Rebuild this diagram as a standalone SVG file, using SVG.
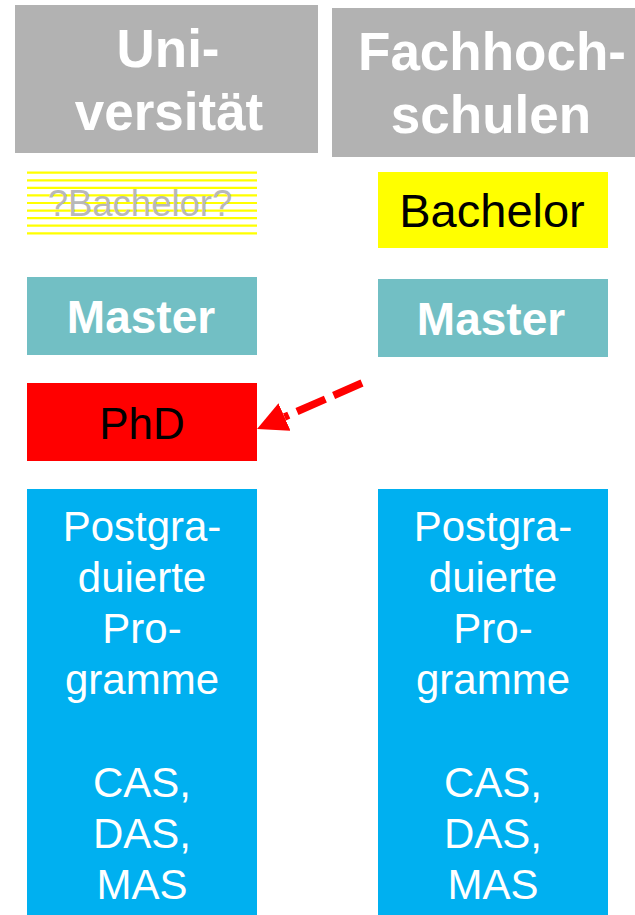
<svg xmlns="http://www.w3.org/2000/svg" width="635" height="915" viewBox="0 0 635 915">
<style>
text{font-family:"Liberation Sans",Arial,sans-serif;text-anchor:middle}
.hdr{fill:#b2b2b2}
.ht{font-size:53px;font-weight:bold;fill:#fff}
.mas{fill:#72bfc4}
.mt{font-size:46px;font-weight:bold;fill:#fff}
.pg{fill:#00b0f0}
.pt{font-size:42px;fill:#fff}
.stripe{stroke:#ffff00;stroke-width:2.2}
.conn{fill:none;stroke:#ff0000;stroke-width:7.5;stroke-dasharray:31 9}
</style>
<defs>
<marker id="ah" markerUnits="userSpaceOnUse" markerWidth="30" markerHeight="30" refX="0" refY="15" orient="auto" viewBox="0 0 30 30">
<path d="M0,0 L30,15 L0,30 Z" fill="#ff0000"/>
</marker>
</defs>
<rect width="635" height="915" fill="#fff"/>
<g id="hdr-uni">
<rect class="hdr" x="15" y="5" width="303" height="148"/>
<text class="ht" x="168" y="67">Uni-</text>
<text class="ht" x="169" y="130">versität</text>
</g>
<g id="hdr-fh">
<rect class="hdr" x="332" y="8" width="303" height="149"/>
<text class="ht" x="492" y="70">Fachhoch-</text>
<text class="ht" x="491" y="133">schulen</text>
</g>
<g id="uni-bachelor">
<g class="stripe">
<line x1="27" y1="172.7" x2="257" y2="172.7"/>
<line x1="27" y1="180.3" x2="257" y2="180.3"/>
<line x1="27" y1="187.9" x2="257" y2="187.9"/>
<line x1="27" y1="195.4" x2="257" y2="195.4"/>
<line x1="27" y1="203" x2="257" y2="203"/>
<line x1="27" y1="210.6" x2="257" y2="210.6"/>
<line x1="27" y1="218.1" x2="257" y2="218.1"/>
<line x1="27" y1="225.7" x2="257" y2="225.7"/>
<line x1="27" y1="233.3" x2="257" y2="233.3"/>
</g>
<text x="140" y="216" font-size="36.5" fill="#b8b8b8">?Bachelor?</text>
</g>
<g id="fh-bachelor">
<rect x="378" y="172" width="230" height="76" fill="#ffff00"/>
<text x="492" y="227" font-size="47" fill="#000">Bachelor</text>
</g>
<g id="uni-master">
<rect class="mas" x="27" y="277" width="230" height="78"/>
<text class="mt" x="141" y="333">Master</text>
</g>
<g id="fh-master">
<rect class="mas" x="378" y="279" width="230" height="78"/>
<text class="mt" x="491" y="335">Master</text>
</g>
<g id="uni-phd">
<rect x="27" y="383" width="230" height="78" fill="#ff0000"/>
<text x="142" y="439" font-size="44" fill="#000">PhD</text>
</g>
<g id="uni-postgrad">
<rect class="pg" x="27" y="489" width="230" height="426"/>
<text class="pt" x="142" y="541">Postgra-</text>
<text class="pt" x="142" y="592">duierte</text>
<text class="pt" x="142" y="643">Pro-</text>
<text class="pt" x="142" y="694">gramme</text>
<text class="pt" x="142" y="797">CAS,</text>
<text class="pt" x="142" y="848">DAS,</text>
<text class="pt" x="142" y="899">MAS</text>
</g>
<g id="fh-postgrad">
<rect class="pg" x="378" y="489" width="230" height="426"/>
<text class="pt" x="493" y="541">Postgra-</text>
<text class="pt" x="493" y="592">duierte</text>
<text class="pt" x="493" y="643">Pro-</text>
<text class="pt" x="493" y="694">gramme</text>
<text class="pt" x="493" y="797">CAS,</text>
<text class="pt" x="493" y="848">DAS,</text>
<text class="pt" x="493" y="899">MAS</text>
</g>
<g id="connectors">
<path class="conn" d="M362,383 L284.5,417" marker-end="url(#ah)"/>
</g>
</svg>
